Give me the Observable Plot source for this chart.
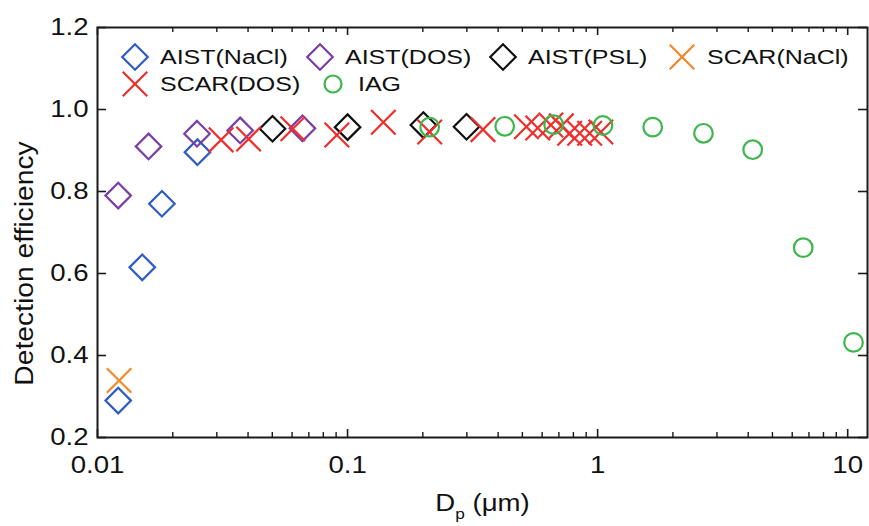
<!DOCTYPE html>
<html>
<head>
<meta charset="utf-8">
<script src="https://cdn.jsdelivr.net/npm/d3@7"></script>
<script src="https://cdn.jsdelivr.net/npm/@observablehq/plot@0.6"></script>
<style>
  body { margin: 0; background: #fff; }
  #wrap { position: relative; width: 869px; height: 526px; font-family: "Liberation Sans", Arial, sans-serif; }
  #legend { position: absolute; left: 0; top: 0; }
</style>
</head>
<body>
<div id="wrap"></div>
<script>
// ---- data ----
const aistNaClX = [0.0121, 0.0151, 0.0181, 0.0251];
const aistNaClY = [0.290, 0.615, 0.770, 0.896];

const aistDosX = [0.0121, 0.0160, 0.0250, 0.0372, 0.066];
const aistDosY = [0.790, 0.910, 0.941, 0.949, 0.954];

const aistPslX = [0.0501, 0.100, 0.201, 0.299];
const aistPslY = [0.953, 0.957, 0.962, 0.958];

const scarNaClX = [0.0122];
const scarNaClY = [0.339];

const scarDosX = [0.0312, 0.0402, 0.0604, 0.0906, 0.139, 0.213, 0.348, 0.519, 0.576, 0.650, 0.716, 0.773, 0.848, 0.929, 1.03];
const scarDosY = [0.926, 0.928, 0.953, 0.938, 0.969, 0.945, 0.951, 0.958, 0.955, 0.962, 0.960, 0.942, 0.942, 0.942, 0.945];

const iagX = [0.213, 0.425, 0.667, 1.05, 1.66, 2.65, 4.17, 6.64, 10.55];
const iagY = [0.957, 0.959, 0.963, 0.961, 0.957, 0.942, 0.902, 0.663, 0.432];

const seriesNames = ["AIST(NaCl)", "AIST(DOS)", "AIST(PSL)", "SCAR(NaCl)", "SCAR(DOS)", "IAG"];
const seriesColors = ["#2e5cc4", "#7a3fa6", "#111111", "#f5862a", "#ef2e2a", "#3cb64a"];
const seriesSymbols = ["diamond2", "diamond2", "diamond2", "times", "times", "circle"];

const xMajorTicks = [0.01, 0.1, 1, 10];
const xTickLabels = ["0.01", "0.1", "1", "10"];
const xMinorTicks = [0.02,0.03,0.04,0.05,0.06,0.07,0.08,0.09,0.2,0.3,0.4,0.5,0.6,0.7,0.8,0.9,2,3,4,5,6,7,8,9];
const yTicks = [0.2, 0.4, 0.6, 0.8, 1.0, 1.2];
const yTickLabels = ["0.2", "0.4", "0.6", "0.8", "1.0", "1.2"];
const xLabel = "Dp (μm)";
const yLabel = "Detection efficiency";

// ---- build tables ----
const seriesData = [
  [aistNaClX, aistNaClY], [aistDosX, aistDosY], [aistPslX, aistPslY],
  [scarNaClX, scarNaClY], [scarDosX, scarDosY], [iagX, iagY]
].map(([xs, ys], s) => xs.map((x, i) => ({x, y: ys[i], series: seriesNames[s]})));

const W = 869, H = 526, mL = 97, mR = 2, mT = 27, mB = 89;
const fw = W - mL - mR, fh = H - mT - mB;
const symR = {diamond2: 11.5, times: 11.2, circle: 9.3};

const marks = [
  Plot.frame({stroke: "#1a1a1a", strokeWidth: 2}),
  // inward ticks
  Plot.tickX(xMajorTicks, {x: d => d, insetTop: fh - 8, stroke: "#1a1a1a", strokeWidth: 1.6}),
  Plot.tickX(xMinorTicks, {x: d => d, insetTop: fh - 5, stroke: "#1a1a1a", strokeWidth: 1.4}),
  Plot.tickX(xMajorTicks, {x: d => d, insetBottom: fh - 8, stroke: "#1a1a1a", strokeWidth: 1.6}),
  Plot.tickX(xMinorTicks, {x: d => d, insetBottom: fh - 5, stroke: "#1a1a1a", strokeWidth: 1.4}),
  Plot.tickY(yTicks, {y: d => d, insetRight: fw - 9, stroke: "#1a1a1a", strokeWidth: 1.6}),
  Plot.tickY(yTicks, {y: d => d, insetLeft: fw - 9, stroke: "#1a1a1a", strokeWidth: 1.6}),
  Plot.axisX({ticks: xMajorTicks, tickSize: 0, tickPadding: 18, label: null,
    tickFormat: d => xTickLabels[xMajorTicks.indexOf(d)], fontSize: 24, fill: "#111"}),
  Plot.axisY({ticks: yTicks, tickSize: 0, tickPadding: 9, label: null,
    tickFormat: d => yTickLabels[yTicks.indexOf(d)], fontSize: 24, fill: "#111"}),
  Plot.text([yLabel], {frameAnchor: "left", textAnchor: "middle", dx: -73, dy: 31, rotate: -90, fontSize: 25, fill: "#111"}),
  Plot.text([xLabel], {frameAnchor: "bottom", dy: 73, fontSize: 24, fill: "#111"}),
  ...seriesData.map((data, s) => Plot.dot(data, {
    x: "x", y: "y", symbol: seriesSymbols[s], r: symR[seriesSymbols[s]],
    stroke: seriesColors[s], fill: "none", strokeWidth: 2.2
  }))
];

const chart = Plot.plot({
  width: W, height: H,
  marginLeft: mL, marginRight: mR, marginTop: mT, marginBottom: mB,
  x: {type: "log", domain: [0.01, 12]},
  y: {domain: [0.2, 1.2]},
  style: {fontFamily: "'Liberation Sans', Arial, sans-serif", background: "#fff", color: "#111"},
  marks
});

// subscript p in the x label + slight stretch of text like the reference
chart.querySelectorAll("text").forEach(t => {
  if (t.textContent === xLabel) {
    t.textContent = "";
    const ns = "http://www.w3.org/2000/svg";
    const a = document.createElementNS(ns, "tspan"); a.textContent = "D";
    const b = document.createElementNS(ns, "tspan"); b.textContent = "p"; b.setAttribute("dy", "8"); b.setAttribute("font-size", "15");
    const c = document.createElementNS(ns, "tspan"); c.textContent = " (μm)"; c.setAttribute("dy", "-8");
    t.append(a, b, c);
  }
  const tr = t.getAttribute("transform");
  if (tr) t.setAttribute("transform", tr + (tr.includes("rotate") ? " scale(1.13,1)" : " scale(1.15,1)"));
});

const wrap = document.getElementById("wrap");
wrap.append(chart);

// ---- legend overlay ----
const legendItems = [
  {s: 0, cx: 135, cy: 57}, {s: 1, cx: 320, cy: 57}, {s: 2, cx: 503, cy: 57}, {s: 3, cx: 682, cy: 57},
  {s: 4, cx: 135, cy: 84}, {s: 5, cx: 333, cy: 84}
];
const symType = {diamond2: d3.symbolDiamond2, times: d3.symbolTimes, circle: d3.symbolCircle};
const lg = d3.select(wrap).append("svg").attr("id", "legend").attr("width", W).attr("height", 110);
legendItems.forEach(({s, cx, cy}) => {
  const sym = seriesSymbols[s];
  const rr = sym === "circle" ? 8.5 : symR[sym];
  lg.append("path")
    .attr("d", d3.symbol(symType[sym], Math.PI * rr * rr)())
    .attr("transform", `translate(${cx},${cy})`)
    .attr("fill", "none").attr("stroke", seriesColors[s]).attr("stroke-width", 2.2);
  lg.append("text")
    .attr("transform", `translate(${cx + 25},${cy}) scale(1.25,1)`)
    .attr("dy", "0.35em")
    .attr("font-size", 20)
    .attr("font-family", "'Liberation Sans', Arial, sans-serif")
    .attr("fill", "#111")
    .text(seriesNames[s]);
});
</script>
</body>
</html>
